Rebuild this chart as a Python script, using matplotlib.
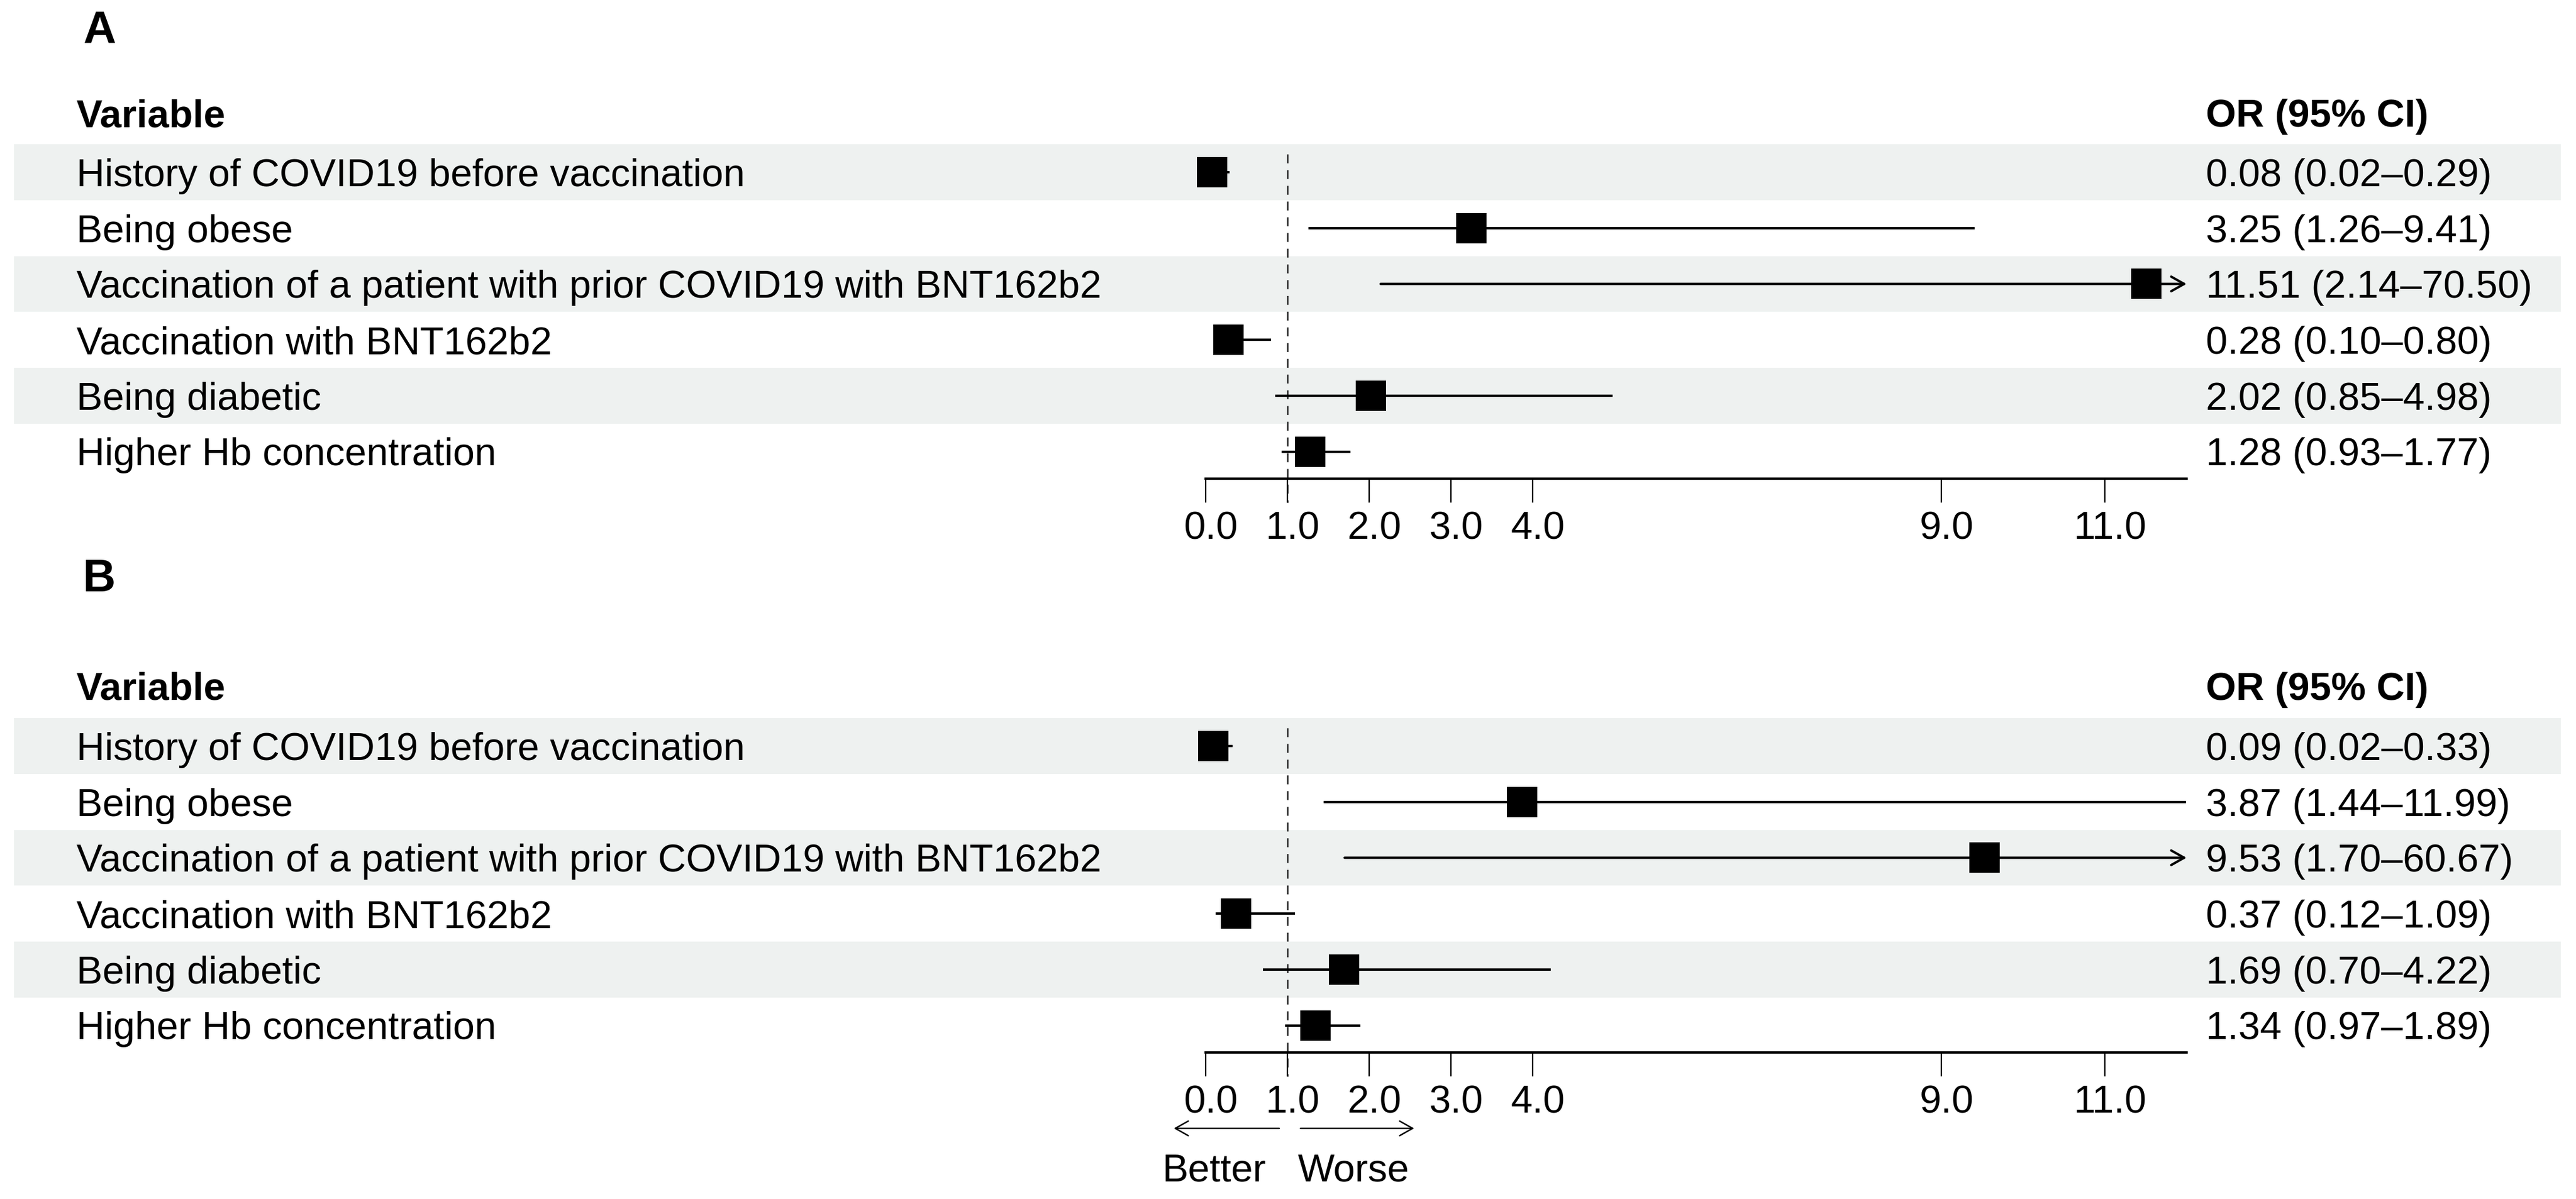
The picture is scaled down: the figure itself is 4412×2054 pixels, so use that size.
import numpy as np
import matplotlib
matplotlib.use("Agg")
import matplotlib.pyplot as plt
from matplotlib.transforms import blended_transform_factory, ScaledTranslation

plt.rcParams['font.family'] = ['Liberation Sans', 'DejaVu Sans']

# data
variables = ['History of COVID19 before vaccination',
             'Being obese',
             'Vaccination of a patient with prior COVID19 with BNT162b2',
             'Vaccination with BNT162b2',
             'Being diabetic',
             'Higher Hb concentration']

or_a = [0.08, 3.25, 11.51, 0.28, 2.02, 1.28]
lo_a = [0.02, 1.26, 2.14, 0.10, 0.85, 0.93]
hi_a = [0.29, 9.41, 70.50, 0.80, 4.98, 1.77]

or_b = [0.09, 3.87, 9.53, 0.37, 1.69, 1.34]
lo_b = [0.02, 1.44, 1.70, 0.12, 0.70, 0.97]
hi_b = [0.33, 11.99, 60.67, 1.09, 4.22, 1.89]

xticks = [0, 1, 2, 3, 4, 9, 11]
xticklabels = ['0.0', '1.0', '2.0', '3.0', '4.0', '9.0', '11.0']
xmax = 12

W, H = 4412, 2054
DPI = 200
FS = 24
ROW_PX = 95.7
X0_PX, X12_PX = 2065, 3745
PX_PER_UNIT = (X12_PX - X0_PX) / xmax
BAND = '#eef1f0'

fig = plt.figure(figsize=(W / DPI, H / DPI), dpi=DPI)


def panel(top_px, bottom_px, row0_px, letter, letter_row, head_row,
          ors, los, his, arrows=False):
    ax = fig.add_axes([0, 1 - bottom_px / H, 1, (bottom_px - top_px) / H])
    ax.set_xlim(-X0_PX / PX_PER_UNIT, (W - X0_PX) / PX_PER_UNIT)
    ax.set_ylim((bottom_px - row0_px) / ROW_PX, (top_px - row0_px) / ROW_PX)
    ax.patch.set_visible(False)
    for s in ['top', 'left', 'right']:
        ax.spines[s].set_visible(False)

    axis_y = 5.49
    ax.spines['bottom'].set_position(('data', axis_y))
    ax.spines['bottom'].set_bounds(0, xmax)
    ax.spines['bottom'].set_linewidth(1.45)
    ax.set_xticks(xticks)
    ax.set_xticklabels(xticklabels, fontsize=FS)
    ax.tick_params(axis='x', length=14.8, width=0.85, pad=5)
    ax.set_yticks([])
    # R draws the labels a little right of the tick
    shift = ScaledTranslation(9 / DPI, 0, fig.dpi_scale_trans)
    for lab in ax.get_xticklabels():
        lab.set_transform(lab.get_transform() + shift)

    tr = blended_transform_factory(fig.transFigure, ax.transData)
    n = len(ors)
    rows = np.arange(n)

    # zebra bands
    for r in rows[::2]:
        ax.axhspan(r - 0.5, r + 0.5, xmin=24 / W, xmax=4386 / W,
                   color=BAND, lw=0, zorder=0)

    # reference line at 1
    ax.plot([1, 1], [-0.32, axis_y + 0.42], color='#333333', lw=1.0,
            linestyle=(0, (5.5, 4.2)), zorder=1)

    for r, o, lo, hi in zip(rows, ors, los, his):
        end = min(hi, xmax)
        if hi > xmax:
            ax.annotate('', xy=(xmax, r), xytext=(lo, r),
                        arrowprops=dict(arrowstyle='->,head_length=0.8,head_width=0.45',
                                        lw=1.45, color='black',
                                        shrinkA=0, shrinkB=0, mutation_scale=10),
                        zorder=2)
        else:
            ax.plot([lo, end], [r, r], color='black', lw=1.45,
                    solid_capstyle='butt', zorder=2)
        ax.plot(o, r, marker='s', markersize=18.4, color='black',
                markeredgewidth=0, zorder=3)

        ax.text(131 / W, r + 0.25, variables[r], transform=tr, fontsize=FS,
                va='baseline', ha='left')
        ax.text(3778 / W, r + 0.25, f'{o:.2f} ({lo:.2f}\u2013{hi:.2f})',
                transform=tr, fontsize=FS, va='baseline', ha='left')

    ax.text(131 / W, head_row + 0.25, 'Variable', transform=tr, fontsize=FS,
            fontweight='bold', va='baseline', ha='left')
    ax.text(3778 / W, head_row + 0.25, 'OR (95% CI)', transform=tr,
            fontsize=FS, fontweight='bold', va='baseline', ha='left')
    ax.text(142 / W, letter_row + 0.29, letter, transform=tr, fontsize=28,
            fontweight='bold', va='baseline', ha='left')

    if arrows:
        arr = dict(arrowstyle='->,head_length=0.8,head_width=0.45', lw=0.9,
                   color='black', shrinkA=0, shrinkB=0, mutation_scale=10)
        ay = (1933 - row0_px) / ROW_PX
        ax.annotate('', xy=(-0.39, ay), xytext=(0.90, ay), arrowprops=arr,
                    annotation_clip=False)
        ax.annotate('', xy=(2.55, ay), xytext=(1.16, ay), arrowprops=arr,
                    annotation_clip=False)
        ty = (2000 - row0_px) / ROW_PX + 0.25
        ax.text(0.10, ty, 'Better', fontsize=FS, ha='center', va='baseline')
        ax.text(1.81, ty, 'Worse', fontsize=FS, ha='center', va='baseline')
    return ax


panel(0, 1000, 295, 'A', -2.6, -1.06, or_a, lo_a, hi_a)
panel(1000, 2054, 1278, 'B', -3.06, -1.08, or_b, lo_b, hi_b, arrows=True)

fig.savefig('out.png', dpi=DPI, facecolor='white')
